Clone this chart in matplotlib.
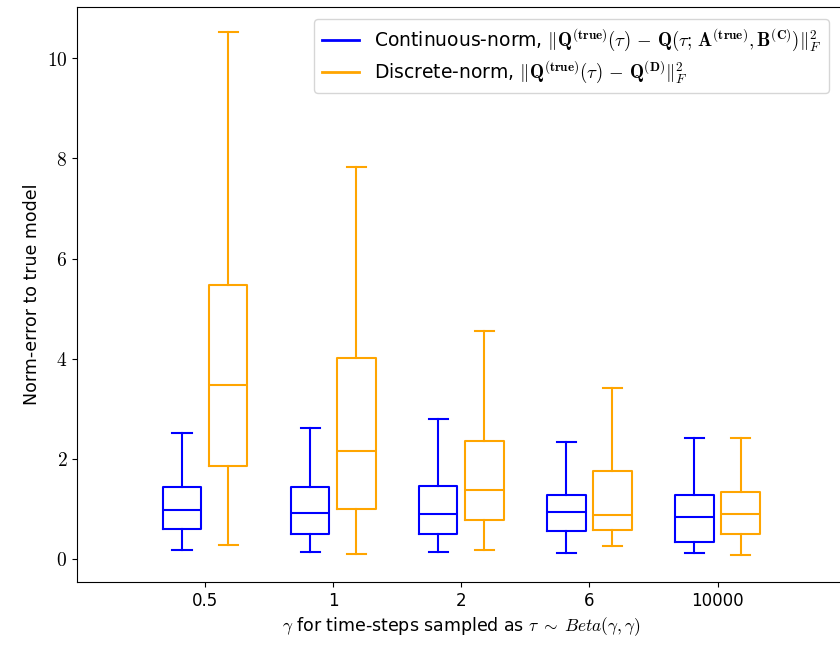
import matplotlib
matplotlib.use("Agg")
import matplotlib.pyplot as plt
from matplotlib.lines import Line2D

plt.rcParams["mathtext.fontset"] = "cm"
plt.rcParams["font.family"] = "DejaVu Sans"

gammas = ["0.5", "1", "2", "6", "10000"]

# whisker low, q1, median, q3, whisker high
cont_lo = [0.18, 0.13, 0.14, 0.12, 0.11]
cont_q1 = [0.60, 0.49, 0.49, 0.55, 0.34]
cont_med = [0.98, 0.92, 0.90, 0.93, 0.84]
cont_q3 = [1.43, 1.43, 1.46, 1.27, 1.27]
cont_hi = [2.51, 2.61, 2.80, 2.33, 2.42]

disc_lo = [0.27, 0.09, 0.17, 0.25, 0.07]
disc_q1 = [1.85, 1.00, 0.77, 0.58, 0.50]
disc_med = [3.47, 2.16, 1.37, 0.87, 0.90]
disc_q3 = [5.48, 4.02, 2.36, 1.76, 1.33]
disc_hi = [10.52, 7.82, 4.56, 3.41, 2.41]


def make_stats(lo, q1, med, q3, hi):
    return [dict(whislo=a, q1=b, med=c, q3=d, whishi=e, fliers=[])
            for a, b, c, d, e in zip(lo, q1, med, q3, hi)]


def style(color):
    p = dict(color=color, linewidth=1.5)
    return dict(boxprops=p, whiskerprops=p, capprops=p, medianprops=p)


fig = plt.figure(figsize=(8.4, 6.5), dpi=100)
ax = fig.add_axes([0.0917, 0.1046, 0.915, 0.8844])

pos = list(range(len(gammas)))
off = 0.18
ax.bxp(make_stats(cont_lo, cont_q1, cont_med, cont_q3, cont_hi),
       positions=[p - off for p in pos], widths=0.3, showfliers=False,
       **style("blue"))
ax.bxp(make_stats(disc_lo, disc_q1, disc_med, disc_q3, disc_hi),
       positions=[p + off for p in pos], widths=0.3, showfliers=False,
       **style("orange"))

ax.set_xlim(-1, 5)
ax.set_ylim(-0.46, 11.02)
ax.set_xticks(pos)
ax.set_xticklabels(gammas, fontsize=12)
ax.set_yticks([0, 2, 4, 6, 8, 10])
ax.set_yticklabels([r"$%d$" % v for v in [0, 2, 4, 6, 8, 10]], fontsize=14)
ax.set_ylabel("Norm-error to true model", fontsize=12.5)
ax.set_xlabel(r"$\gamma$ for time-steps sampled as $\tau\;\sim\;\mathit{Beta}(\gamma, \gamma)$",
              fontsize=12.5)

handles = [Line2D([], [], color="blue", linewidth=2),
           Line2D([], [], color="orange", linewidth=2)]
labels = [r"Continuous-norm, $\Vert\mathbf{Q}^{(\mathbf{true})}(\tau)\, - \,\mathbf{Q}(\tau;\,\mathbf{A}^{(\mathbf{true})},\mathbf{B}^{(\mathbf{C})})\Vert_F^{2}$",
          r"Discrete-norm, $\Vert\mathbf{Q}^{(\mathbf{true})}(\tau)\, - \,\mathbf{Q}^{(\mathbf{D})}\Vert_F^{2}$"]
fig.legend(handles, labels, loc="upper right", bbox_to_anchor=(0.998, 0.985),
           fontsize=13.5, handlelength=2, labelspacing=0.3)

fig.savefig("out.png", dpi=100)
